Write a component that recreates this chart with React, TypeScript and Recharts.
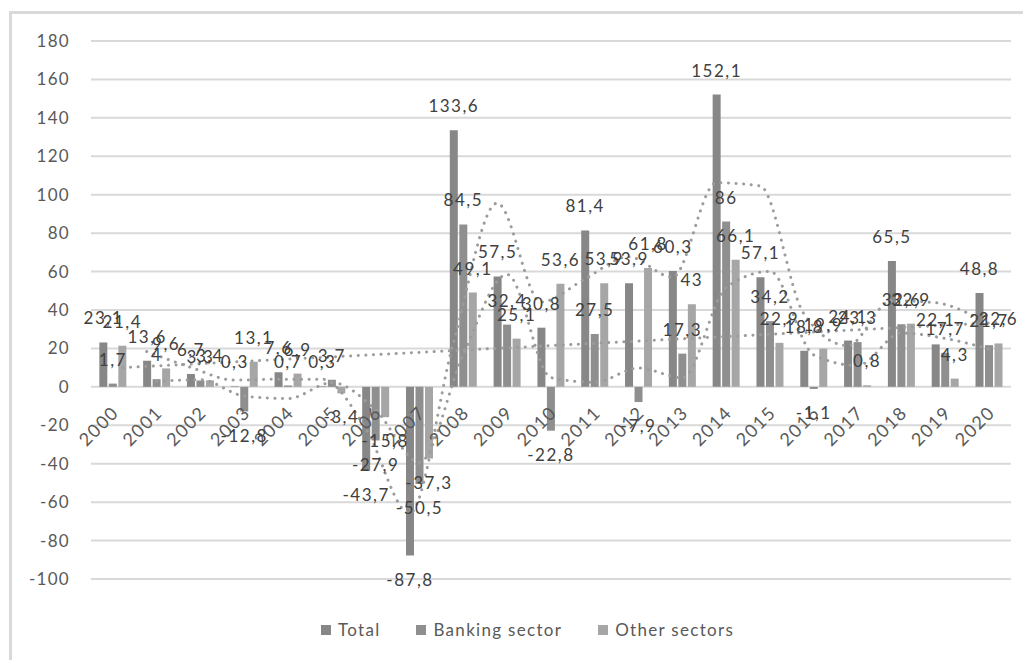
import React from 'react';
import { ComposedChart, Bar, Line, XAxis, YAxis, CartesianGrid, LabelList } from 'recharts';

const years = ['2000', '2001', '2002', '2003', '2004', '2005', '2006', '2007', '2008', '2009', '2010', '2011', '2012', '2013', '2014', '2015', '2016', '2017', '2018', '2019', '2020'];
const total = [23.1, 13.6, 6.7, 0.3, 7.6, 0.3, -43.7, -87.8, 133.6, 57.5, 30.8, 81.4, 53.9, 60.3, 152.1, 57.1, 18.8, 24.1, 65.5, 22.1, 48.8];
const banking = [1.7, 4, 3.3, -12.8, 0.7, 3.7, -27.9, -50.5, 84.5, 32.4, -22.8, 27.5, -7.9, 17.3, 86, 34.2, -1.1, 23.3, 32.6, 17.7, 21.7];
const other = [21.4, 9.6, 3.4, 13.1, 6.9, -3.4, -15.8, -37.3, 49.1, 25.1, 53.6, 53.9, 61.8, 43, 66.1, 22.9, 19.9, 0.8, 32.9, 4.3, 22.6];

// dotted trend lines (2-period moving averages and a straight trend)
const totalTrend = [null, 18.4, 10.2, 3.5, 4, 4, -21.7, -65.8, 22.9, 95.6, 44.2, 56.1, 67.7, 57.1, 106.2, 104.6, 38, 21.5, 44.8, 43.8, 35.5];
const bankTrend = [null, 2.9, 3.7, -4.8, -6.1, 2.2, -12.1, -39.2, 17, 58.5, 4.8, 2.4, 9.8, 4.7, 51.7, 60.1, 16.6, 11.1, 28, 25.2, 19.7];
const otherTrend = [10, null, null, null, null, null, null, null, null, null, null, null, null, null, null, null, null, null, null, null, 33.5];

const yTicks = [-100, -80, -60, -40, -20, 0, 20, 40, 60, 80, 100, 120, 140, 160, 180];
const seriesNames = ['Total', 'Banking sector', 'Other sectors'];
const seriesColors = ['#878787', '#8f8f8f', '#a6a6a6'];

const data = years.map((y, i) => ({
  year: y,
  total: total[i],
  banking: banking[i],
  other: other[i],
  totalTrend: totalTrend[i],
  bankTrend: bankTrend[i],
  otherTrend: otherTrend[i],
  zero: 0,
}));

const FONT = 'Lato, "Open Sans", sans-serif';
const fmt = (v: any) => String(v).replace('.', ',');

const YearTick = (props: any) => {
  const { cx, cy, payload, index } = props;
  if (cx == null || cy == null) return <g key={index} />;
  const ax = cx + 7;
  const ay = cy + 27;
  return (
    <g key={`yr-${index}`}>
      <text
        x={ax}
        y={ay}
        textAnchor="end"
        transform={`rotate(-45 ${ax} ${ay})`}
        fill="#595959"
        fontSize={18}
        fontFamily={FONT}
        letterSpacing={1.4}
      >
        {payload.year}
      </text>
    </g>
  );
};

const labelProps = {
  position: 'top' as const,
  offset: 18,
  formatter: fmt,
  fill: '#404040',
  fontSize: 17,
  fontFamily: FONT,
  letterSpacing: 1.5,
};

const trendStyle = {
  stroke: '#9c9c9c',
  strokeWidth: 3,
  strokeDasharray: '0.1 7.5',
  strokeLinecap: 'round' as const,
};

export default function App() {
  return (
    <div style={{ position: 'absolute', left: 0, top: 0, width: 1023, height: 660, background: '#fff', overflow: 'hidden' }}>
      <div
        style={{
          position: 'absolute',
          left: 9,
          top: 11,
          width: 1040,
          height: 680,
          border: '3px solid #d9d9d9',
          boxSizing: 'border-box',
        }}
      />
      <div style={{ position: 'absolute', left: 0, top: 0 }}>
        <ComposedChart
          width={1023}
          height={660}
          data={data}
          margin={{ top: 41, right: 12, bottom: 81, left: 0 }}
          barCategoryGap="19%"
          barGap={1.5}
        >
          <CartesianGrid vertical={false} stroke="#d9d9d9" strokeWidth={2} />
          <XAxis dataKey="year" hide />
          <XAxis xAxisId="tl" dataKey="year" hide padding={{ left: -10, right: 10 }} />
          <XAxis xAxisId="ol" dataKey="year" hide padding={{ left: 10, right: -10 }} />
          <YAxis
            domain={[-100, 180]}
            ticks={yTicks}
            interval={0}
            axisLine={false}
            tickLine={false}
            tickSize={0}
            tickMargin={21}
            width={91}
            tick={{ fill: '#595959', fontSize: 17, fontFamily: FONT, letterSpacing: 1.3 }}
          />
          <Bar dataKey="total" name={seriesNames[0]} fill={seriesColors[0]} isAnimationActive={false}>
            <LabelList dataKey="total" {...labelProps} />
          </Bar>
          <Bar dataKey="banking" name={seriesNames[1]} fill={seriesColors[1]} isAnimationActive={false}>
            <LabelList dataKey="banking" {...labelProps} />
          </Bar>
          <Bar dataKey="other" name={seriesNames[2]} fill={seriesColors[2]} isAnimationActive={false}>
            <LabelList dataKey="other" {...labelProps} />
          </Bar>
          <Line xAxisId="tl" type="monotone" dataKey="totalTrend" {...trendStyle} dot={false} activeDot={false} legendType="none" isAnimationActive={false} />
          <Line type="monotone" dataKey="bankTrend" {...trendStyle} dot={false} activeDot={false} legendType="none" isAnimationActive={false} />
          <Line xAxisId="ol" type="linear" dataKey="otherTrend" connectNulls {...trendStyle} dot={false} activeDot={false} legendType="none" isAnimationActive={false} />
          <Line dataKey="zero" stroke="none" dot={YearTick} activeDot={false} legendType="none" isAnimationActive={false} />
        </ComposedChart>
      </div>
      <div
        style={{
          position: 'absolute',
          left: 0,
          top: 619,
          width: 1023,
          display: 'flex',
          justifyContent: 'center',
          paddingLeft: 32,
          boxSizing: 'border-box',
          fontFamily: FONT,
          fontSize: 17,
          color: '#595959',
          letterSpacing: 1.3,
        }}
      >
        {seriesNames.map((n, i) => (
          <div key={n} style={{ display: 'flex', alignItems: 'center', marginRight: i < seriesNames.length - 1 ? 36 : 0 }}>
            <span style={{ display: 'inline-block', width: 10, height: 10, background: seriesColors[i], marginRight: 7 }} />
            <span>{n}</span>
          </div>
        ))}
      </div>
    </div>
  );
}
